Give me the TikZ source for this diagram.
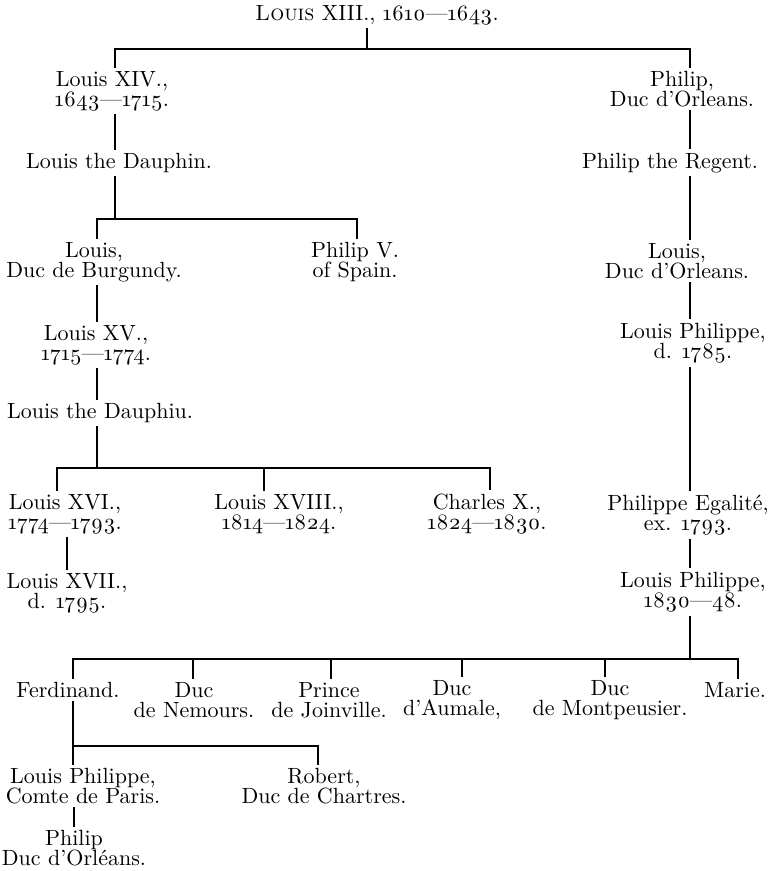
\documentclass[tikz,border=0pt]{standalone}
\usepackage{fontspec}
\setmainfont{lmroman10-regular.otf}[Numbers=OldStyle,
  SmallCapsFont=lmromancaps10-regular.otf,
  SmallCapsFeatures={Numbers=OldStyle}]

\begin{document}
\begin{tikzpicture}[%
  x=0.5pt, y=-0.5pt, line width=0.6pt,
  person/.style={align=center, inner sep=1.5pt, font=\fontsize{11}{10}\selectfont},]
  \useasboundingbox (0,0) rectangle (776,871);
  {
    \node[person] (xiii) at (377,15) {\textsc{Louis} XIII., 1610---1643.};
    \node[person] (xiv) at (112,91) {Louis XIV.,\\1643---1715.};
    \node[person] (orl1) at (682,89) {Philip,\\Duc d'Orleans.};
    \node[person] (dau1) at (119,163) {Louis the Dauphin.};
    \node[person] (regent) at (670,163) {Philip the Regent.};
    \node[person] (burg) at (94,262) {Louis,\\Duc de Burgundy.};
    \node[person] (phv) at (355,262) {Philip V.\\of Spain.};
    \node[person] (orl2) at (677,261) {Louis,\\Duc d'Orleans.};
    \node[person] (xv) at (96,345) {Louis XV.,\\1715---1774.};
    \node[person] (lp1) at (693,343) {Louis Philippe,\\d. 1785.};
    \node[person] (dau2) at (100,413) {Louis the Dauphiu.};
    \node[person] (xvi) at (65,514) {Louis XVI.,\\1774---1793.};
    \node[person] (xviii) at (279,514) {Louis XVIII.,\\1814---1824.};
    \node[person] (charles) at (487,514) {Charles X.,\\1824---1830.};
    \node[person] (egal) at (688,515) {Philippe Egalité,\\ex. 1793.};
    \node[person] (xvii) at (67,593) {Louis XVII.,\\d. 1795.};
    \node[person] (lp2) at (693,592) {Louis Philippe,\\1830---48.};
    \node[person] (ferd) at (68,690) {Ferdinand.};
    \node[person] (nem) at (194,700) {Duc\\de Nemours.};
    \node[person] (join) at (329,700) {Prince\\de Joinville.};
    \node[person] (aum) at (452,700) {Duc\\d'Aumale,};
    \node[person] (mont) at (610,700) {Duc\\de Montpeusier.};
    \node[person] (marie) at (735,690) {Marie.};
    \node[person] (paris) at (83,786) {Louis Philippe,\\Comte de Paris.};
    \node[person] (chartres) at (324,786) {Robert,\\Duc de Chartres.};
    \node[person] (orl3) at (74,848) {Philip\\Duc d'Orléans.};

    \coordinate (b1l) at (115,49);
    \coordinate (b1r) at (690,49);
    \coordinate (b2l) at (97,219);
    \coordinate (b2r) at (357,219);
    \coordinate (t3a) at (57,468);
    \coordinate (t3b) at (264,468);
    \coordinate (t3c) at (490,468);
    \coordinate (t5a) at (73,659);
    \coordinate (t5b) at (193,659);
    \coordinate (t5c) at (331,659);
    \coordinate (t5d) at (462,659);
    \coordinate (t5e) at (605,659);
    \coordinate (t5f) at (738,659);
    \coordinate (t6a) at (73,746);
    \coordinate (t6b) at (318,746);

    \draw ([xshift=-5pt]xiii.south) -- ([xshift=-5pt]xiii.south |- b1l);
    \draw (b1l |- xiv.north) -- (b1l) -- (b1r) -- (b1r |- orl1.north);
    \draw (xiv.south -| b1l) -- (dau1.north -| b1l);
    \draw (dau1.south -| b1l) -- (b1l |- b2l);
    \draw (b2l |- burg.north) -- (b2l) -- (b2r) -- (b2r |- phv.north);
    \draw (burg.south -| b2l) -- (xv.north -| b2l);
    \draw (xv.south -| b2l) -- (dau2.north -| b2l);
    \draw (dau2.south -| b2l) -- (b2l |- t3a);
    \draw (t3a |- xvi.north) -- (t3a) -- (t3c) -- (t3c |- charles.north);
    \draw (t3b) -- (t3b |- xviii.north);
    \draw (xvi.south -| xvii.north) -- (xvii.north);

    \draw (orl1.south -| b1r) -- (regent.north -| b1r);
    \draw (regent.south -| b1r) -- (orl2.north -| b1r);
    \draw (orl2.south -| b1r) -- (lp1.north -| b1r);
    \draw (lp1.south -| b1r) -- (egal.north -| b1r);
    \draw (egal.south -| b1r) -- (lp2.north -| b1r);
    \draw (lp2.south -| b1r) -- (b1r |- t5a);

    \draw (t5a |- ferd.north) -- (t5a) -- (t5f) -- (t5f |- marie.north);
    \draw (t5b) -- (t5b |- nem.north);
    \draw (t5c) -- (t5c |- join.north);
    \draw (t5d) -- (t5d |- aum.north);
    \draw (t5e) -- (t5e |- mont.north);
    \draw (ferd.south -| t6a) -- (t6a);
    \draw (t6a |- paris.north) -- (t6a) -- (t6b) -- (t6b |- chartres.north);
    \draw (paris.south -| orl3.north) -- (orl3.north);
  }
\end{tikzpicture}
\end{document}
